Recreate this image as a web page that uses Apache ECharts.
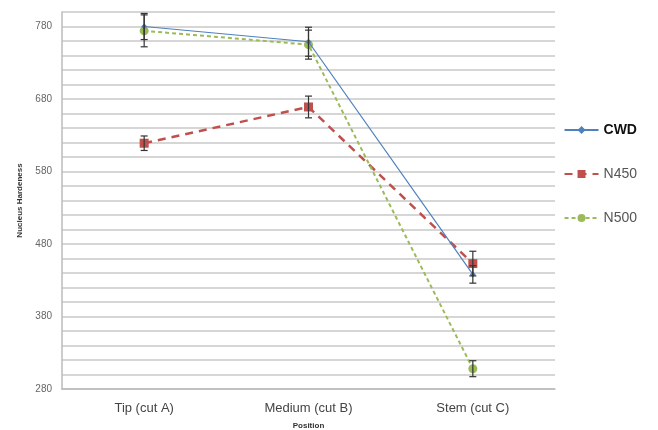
<!DOCTYPE html>
<html><head><meta charset="utf-8">
<script src="https://cdn.jsdelivr.net/npm/echarts@6/dist/echarts.min.js"></script>
<style>html,body{margin:0;padding:0;background:#fff}#c{width:658px;height:430px}</style>
</head><body><div id="c"></div>
<script>
const categories = ['Tip (cut A)', 'Medium (cut B)', 'Stem (cut C)'];
const cwd = [780, 759, 438];
const n450 = [619, 669, 453];
const n500 = [774, 755, 308];
const cwdErr = [18, 20, 12];
const n450Err = [10, 15, 17];
const n500Err = [22, 20, 11];
const yTickLabels = [280, 380, 480, 580, 680, 780];

const colors = {CWD: '#4F81BD', N450: '#C0504D', N500: '#9BBB59'};

function errSeries(name, vals, errs) {
  return {
    type: 'custom', name: name + '_err', silent: true, z: 5,
    data: vals.map((v, i) => [i, v - errs[i], v + errs[i]]),
    renderItem: function (params, api) {
      const lo = api.coord([api.value(0), api.value(1)]);
      const hi = api.coord([api.value(0), api.value(2)]);
      const w = 3.5;
      const st = {stroke: '#333', lineWidth: 1.2};
      return {type: 'group', children: [
        {type: 'line', shape: {x1: lo[0], y1: lo[1], x2: hi[0], y2: hi[1]}, style: st},
        {type: 'line', shape: {x1: lo[0]-w, y1: lo[1], x2: lo[0]+w, y2: lo[1]}, style: st},
        {type: 'line', shape: {x1: hi[0]-w, y1: hi[1], x2: hi[0]+w, y2: hi[1]}, style: st}
      ]};
    }
  };
}

const chart = echarts.init(document.getElementById('c'));
chart.setOption({
  animation: false,
  grid: {left: 62, right: 103, top: 12, bottom: 41, outerBoundsMode: 'none', containLabel: false},
  legend: {
    orient: 'vertical', right: 16, top: 118, itemGap: 30,
    itemWidth: 34, itemHeight: 10,
    data: [
      {name: 'CWD', textStyle: {color: '#111', fontWeight: 'bold'}},
      {name: 'N450'},
      {name: 'N500'}
    ],
    textStyle: {fontSize: 14, color: '#555', fontFamily: 'Liberation Sans, Arial'}
  },
  xAxis: {
    type: 'category', data: categories, boundaryGap: true,
    name: 'Position', nameLocation: 'middle', nameGap: 33,
    nameTextStyle: {fontSize: 8, fontWeight: 'bold', color: '#333'},
    axisLine: {lineStyle: {color: '#bbb', width: 1.5}},
    axisTick: {show: false},
    axisLabel: {fontSize: 13, color: '#444', margin: 13, fontFamily: 'Liberation Sans, Arial'},
    splitLine: {show: false}
  },
  yAxis: {
    type: 'value', min: 280, max: 800, interval: 20,
    name: 'Nucleus Hardeness', nameLocation: 'middle', nameGap: 38,
    nameTextStyle: {fontSize: 8, fontWeight: 'bold', color: '#333'},
    axisLine: {show: true, lineStyle: {color: '#bbb', width: 1.5}},
    axisTick: {show: false},
    axisLabel: {
      fontSize: 10, color: '#666', margin: 10,
      formatter: function (v) { return yTickLabels.indexOf(v) >= 0 ? String(v) : ''; }
    },
    splitLine: {lineStyle: {color: '#c8c8c8', width: 1.5}}
  },
  series: [
    {name: 'CWD', type: 'line', data: cwd, z: 4,
     itemStyle: {color: colors.CWD}, lineStyle: {color: colors.CWD, width: 1.2},
     symbol: 'diamond', symbolSize: 6},
    {name: 'N450', type: 'line', data: n450, z: 3,
     itemStyle: {color: colors.N450}, lineStyle: {color: colors.N450, width: 2.5, type: [8, 6]},
     symbol: 'rect', symbolSize: 9},
    {name: 'N500', type: 'line', data: n500, z: 3,
     itemStyle: {color: colors.N500}, lineStyle: {color: colors.N500, width: 2, type: [4, 3]},
     symbol: 'circle', symbolSize: 9},
    errSeries('CWD', cwd, cwdErr),
    errSeries('N450', n450, n450Err),
    errSeries('N500', n500, n500Err)
  ]
});
</script></body></html>
